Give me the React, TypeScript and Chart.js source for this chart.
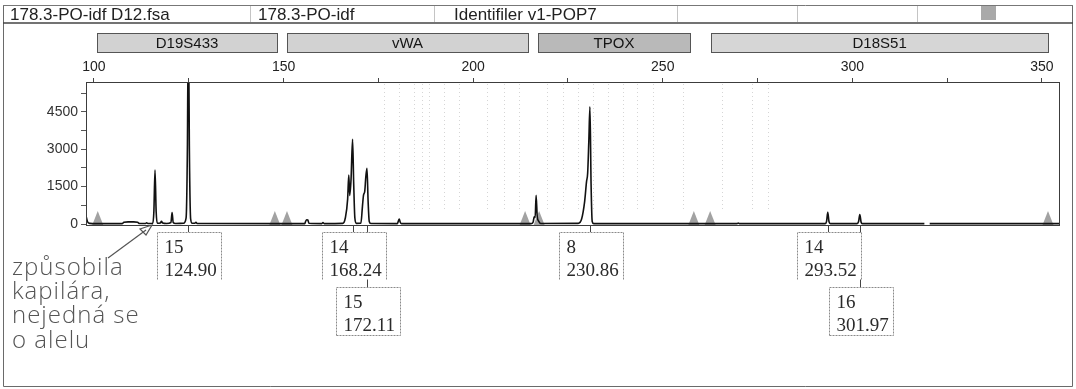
import React, { useEffect, useRef } from 'react';
import { Chart, registerables } from 'chart.js';

Chart.register(...registerables);

// ---------- data ----------
const headerTexts = ['178.3-PO-idf D12.fsa', '178.3-PO-idf', 'Identifiler v1-POP7'];

const markerNames = ['D19S433', 'vWA', 'TPOX', 'D18S51'];
const markerStartBp = [100.8, 150.9, 217.1, 262.8];
const markerEndBp = [148.3, 214.5, 257.2, 351.6];
const markerShade = ['#d2d2d2', '#d2d2d2', '#b9b9b9', '#d6d6d6'];

const xTickValues = [100, 125, 150, 175, 200, 225, 250, 275, 300, 325, 350];
const xLabelValues = [100, 150, 200, 250, 300, 350];
const yTickValues = [0, 750, 1500, 2250, 3000, 3750, 4500, 5250];
const yLabelValues = [0, 1500, 3000, 4500];

// electropherogram trace (size in bp, height in RFU); null = gap in the trace
const traceBp = [
  97.9, 98.3, 98.9, 100.5, 107.4, 107.9, 109.0, 110.5, 111.5, 112.0,
  113.6, 113.9, 114.2, 115.5, 115.8, 116.1, 116.4, 116.7, 117.5, 117.8,
  118.1, 119.2, 120.3, 120.6, 120.9, 121.5, 123.6, 124.3, 124.65, 124.8,
  125.0, 125.15, 125.5, 125.9, 126.6, 126.9, 127.2, 155.6, 155.8, 156.1,
  156.4, 156.7, 160.1, 160.4, 160.7, 165.6, 166.3, 166.9, 167.2, 167.45,
  167.8, 168.2, 168.5, 168.8, 169.2, 170.4, 170.8, 171.1, 171.4, 171.7,
  172.0, 172.3, 172.6, 173.0, 180.0, 180.3, 180.5, 180.8, 181.1, 215.3,
  215.8, 216.1, 216.35, 216.6, 216.9, 217.3, 217.8, 227.7, 228.6, 229.4,
  229.9, 230.2, 230.5, 230.8, 231.1, 231.4, 231.8, 269.6, 269.9, 270.2,
  292.8, 293.2, 293.52, 293.85, 294.2, 301.2, 301.65, 301.97, 302.3, 302.6,
  319.0, 319.2, 320.4, 354.5,
];
const traceRfu: (number | null)[] = [
  330, 90, 25, 15, 15, 70, 85, 85, 70, 20,
  20, 45, 20, 30, 500, 2170, 500, 30, 40, 110,
  40, 20, 60, 460, 60, 20, 30, 250, 3200, 6500,
  6500, 3200, 200, 30, 30, 70, 20, 15, 100, 170,
  160, 30, 15, 55, 15, 25, 250, 1000, 1970, 1150,
  1800, 3400, 1600, 250, 25, 30, 700, 1170, 1300, 1900,
  2240, 900, 100, 20, 15, 130, 200, 60, 15, 15,
  70, 290, 260, 1150, 300, 110, 20, 25, 200, 900,
  1700, 2050, 3300, 4700, 1600, 100, 15, 15, 40, 15,
  15, 100, 470, 90, 15, 15, 100, 380, 80, 15,
  15, null, 15, 15,
];

// size-standard markers (grey triangles)
const sizeStdBp = [101.0, 147.7, 150.9, 213.7, 217.4, 258.2, 262.5, 351.6];

// faint allele-bin lines
const binBp = [
  176.5, 180.4, 184.4, 186.5, 188.3, 192.3, 196.3, 203.6, 208.1, 212.1,
  219.5, 223.7, 227.7, 231.6, 235.6, 239.5, 243.2, 247.4, 255.4, 265.6,
  273.5, 277.7,
];

// allele calls
const alleleNames = ['15', '14', '15', '8', '14', '16'];
const alleleSizes = [124.9, 168.24, 172.11, 230.86, 293.52, 301.97];
const alleleLevel = [0, 0, 1, 0, 0, 1];

// handwritten note
const noteLines = ['způsobila', 'kapilára,', 'nejedná se', 'o alelu'];

const SANS = '"Liberation Sans", Arial, sans-serif';
const SERIF = '"Liberation Serif", "Times New Roman", serif';

const decorPlugin = {
  id: 'decor',
  beforeDraw(chart: any) {
    const ctx = chart.ctx;
    const xs = chart.scales.x;
    ctx.save();
    ctx.fillStyle = '#ffffff';
    ctx.fillRect(0, 0, chart.width, chart.height);

    // outer frame
    ctx.strokeStyle = '#6a6a6a';
    ctx.lineWidth = 1;
    ctx.beginPath();
    ctx.moveTo(3.5, 5);
    ctx.lineTo(3.5, 386.5);
    ctx.lineTo(1072.5, 386.5);
    ctx.lineTo(1072.5, 5);
    ctx.stroke();

    // header row
    ctx.strokeStyle = '#777';
    ctx.beginPath();
    ctx.moveTo(3, 5.5);
    ctx.lineTo(1073, 5.5);
    ctx.stroke();
    ctx.strokeStyle = '#444';
    ctx.lineWidth = 1.5;
    ctx.beginPath();
    ctx.moveTo(3, 23);
    ctx.lineTo(1073, 23);
    ctx.stroke();
    ctx.strokeStyle = '#c4c4c4';
    ctx.lineWidth = 1;
    [250, 434, 677, 797, 917].forEach((x) => {
      ctx.beginPath();
      ctx.moveTo(x + 0.5, 6);
      ctx.lineTo(x + 0.5, 22);
      ctx.stroke();
    });
    ctx.fillStyle = '#222';
    ctx.font = `17px ${SANS}`;
    ctx.textAlign = 'left';
    ctx.textBaseline = 'alphabetic';
    const hx = [10, 258, 454];
    headerTexts.forEach((t, i) => ctx.fillText(t, hx[i], 20));
    ctx.fillStyle = '#a9a9a9';
    ctx.fillRect(981, 6, 15, 14);

    // marker bins
    markerNames.forEach((name, i) => {
      const x0 = xs.getPixelForValue(markerStartBp[i]);
      const x1 = xs.getPixelForValue(markerEndBp[i]);
      ctx.fillStyle = markerShade[i];
      ctx.fillRect(x0, 33, x1 - x0, 19);
      ctx.strokeStyle = '#555';
      ctx.lineWidth = 1;
      ctx.strokeRect(Math.round(x0) + 0.5, 33.5, Math.round(x1 - x0), 19);
      ctx.fillStyle = '#151515';
      ctx.font = `15px ${SANS}`;
      ctx.textAlign = 'center';
      ctx.fillText(name, (x0 + x1) / 2, 48);
    });
    ctx.restore();
  },
  beforeDatasetsDraw(chart: any) {
    const ctx = chart.ctx;
    const xs = chart.scales.x;
    const ys = chart.scales.y;
    const a = chart.chartArea;
    ctx.save();
    // faint bin lines
    ctx.strokeStyle = 'rgba(150,150,150,0.4)';
    ctx.lineWidth = 1;
    ctx.setLineDash([1, 3]);
    binBp.forEach((b) => {
      const x = Math.round(xs.getPixelForValue(b)) + 0.5;
      ctx.beginPath();
      ctx.moveTo(x, a.top + 2);
      ctx.lineTo(x, a.bottom - 14);
      ctx.stroke();
    });
    ctx.setLineDash([]);
    // size standard triangles
    const y0 = ys.getPixelForValue(0);
    ctx.fillStyle = '#a2a2a2';
    sizeStdBp.forEach((b) => {
      const x = xs.getPixelForValue(b);
      ctx.beginPath();
      ctx.moveTo(x - 5.5, y0 + 1);
      ctx.lineTo(x, y0 - 13);
      ctx.lineTo(x + 5.5, y0 + 1);
      ctx.closePath();
      ctx.fill();
    });
    ctx.restore();
  },
  afterDraw(chart: any) {
    const ctx = chart.ctx;
    const xs = chart.scales.x;
    const a = chart.chartArea;
    ctx.save();
    // plot frame
    ctx.strokeStyle = '#3c3c3c';
    ctx.lineWidth = 1;
    ctx.strokeRect(a.left + 0.5, a.top + 0.5, a.right - a.left, a.bottom - a.top);

    // allele connectors
    const tops = [232, 287];
    const heights = [47, 48];
    ctx.strokeStyle = '#444';
    alleleSizes.forEach((s, i) => {
      const cx = Math.round(xs.getPixelForValue(s)) + 0.5;
      ctx.beginPath();
      ctx.moveTo(cx, a.bottom);
      ctx.lineTo(cx, tops[alleleLevel[i]]);
      ctx.stroke();
    });
    // allele boxes
    alleleSizes.forEach((s, i) => {
      const lv = alleleLevel[i];
      const cx = xs.getPixelForValue(s);
      const left = Math.round(cx - 31) + 0.5;
      const w = 64;
      const top = tops[lv] + 0.5;
      const h = heights[lv];
      ctx.fillStyle = '#ffffff';
      ctx.fillRect(left, top, w, h);
      ctx.strokeStyle = '#8a8a8a';
      ctx.setLineDash([2, 1]);
      ctx.beginPath();
      ctx.moveTo(left, top + h);
      ctx.lineTo(left, top);
      ctx.lineTo(left + w, top);
      ctx.lineTo(left + w, top + h);
      if (lv === 1) ctx.lineTo(left, top + h);
      ctx.stroke();
      ctx.setLineDash([]);
      ctx.fillStyle = '#2a2a2a';
      ctx.font = `19px ${SERIF}`;
      ctx.textAlign = 'left';
      ctx.fillText(alleleNames[i], left + 7, top + 20);
      ctx.fillText(s.toFixed(2), left + 7, top + 43);
    });

    // handwritten note with arrow
    ctx.strokeStyle = '#555';
    ctx.lineWidth = 1.2;
    ctx.beginPath();
    ctx.moveTo(108, 258);
    ctx.lineTo(146, 230);
    ctx.stroke();
    ctx.beginPath();
    ctx.moveTo(152, 225);
    ctx.lineTo(140, 229);
    ctx.lineTo(146, 235);
    ctx.closePath();
    ctx.stroke();
    ctx.fillStyle = '#555';
    ctx.font = `300 24px "Open Sans", ${SANS}`;
    try {
      (ctx as any).letterSpacing = '1px';
    } catch (e) {
      /* ignore */
    }
    ctx.textAlign = 'left';
    const ny = [275, 299, 323, 348];
    noteLines.forEach((t, i) => ctx.fillText(t, 12, ny[i]));
    ctx.restore();
  },
};

export default function App() {
  const ref = useRef<HTMLCanvasElement | null>(null);
  useEffect(() => {
    document.body.style.margin = '0';
    if (!ref.current) return;
    const points = traceBp.map((x, i) => ({ x, y: traceRfu[i] }));
    const chart = new Chart(ref.current, {
      type: 'line',
      data: {
        datasets: [
          {
            data: points as any,
            borderColor: '#111111',
            borderWidth: 1.6,
            pointRadius: 0,
            cubicInterpolationMode: 'monotone',
            spanGaps: false,
            fill: false,
          },
        ],
      },
      options: {
        animation: false,
        responsive: false,
        devicePixelRatio: 1,
        layout: { padding: { left: 0, top: 0, right: 17, bottom: 164 } },
        plugins: { legend: { display: false }, tooltip: { enabled: false } },
        scales: {
          x: {
            type: 'linear',
            position: 'top',
            min: 97.9,
            max: 354.5,
            afterFit: (s: any) => {
              s.height = 82;
            },
            afterBuildTicks: (s: any) => {
              s.ticks = xTickValues.map((v) => ({ value: v }));
            },
            ticks: {
              autoSkip: false,
              maxRotation: 0,
              padding: 2,
              color: '#222',
              font: { family: SANS, size: 14 },
              callback: (v: any) => (xLabelValues.includes(Number(v)) ? String(v) : ''),
            },
            grid: { drawOnChartArea: false, drawTicks: true, tickLength: 4, color: '#444' },
            border: { display: false },
          },
          y: {
            type: 'linear',
            min: -40,
            max: 5700,
            afterFit: (s: any) => {
              s.width = 86;
            },
            afterBuildTicks: (s: any) => {
              s.ticks = yTickValues.map((v) => ({ value: v }));
            },
            ticks: {
              autoSkip: false,
              padding: 3,
              color: '#333',
              font: { family: SANS, size: 14 },
              callback: (v: any) => (yLabelValues.includes(Number(v)) ? String(v) : ''),
            },
            grid: { drawOnChartArea: false, drawTicks: true, tickLength: 5, color: '#555' },
            border: { display: false },
          },
        },
      },
      plugins: [decorPlugin],
    });
    return () => chart.destroy();
  }, []);
  return (
    <div style={{ width: 1076, height: 389 }}>
      <canvas ref={ref} width={1076} height={389} style={{ display: 'block' }} />
    </div>
  );
}
